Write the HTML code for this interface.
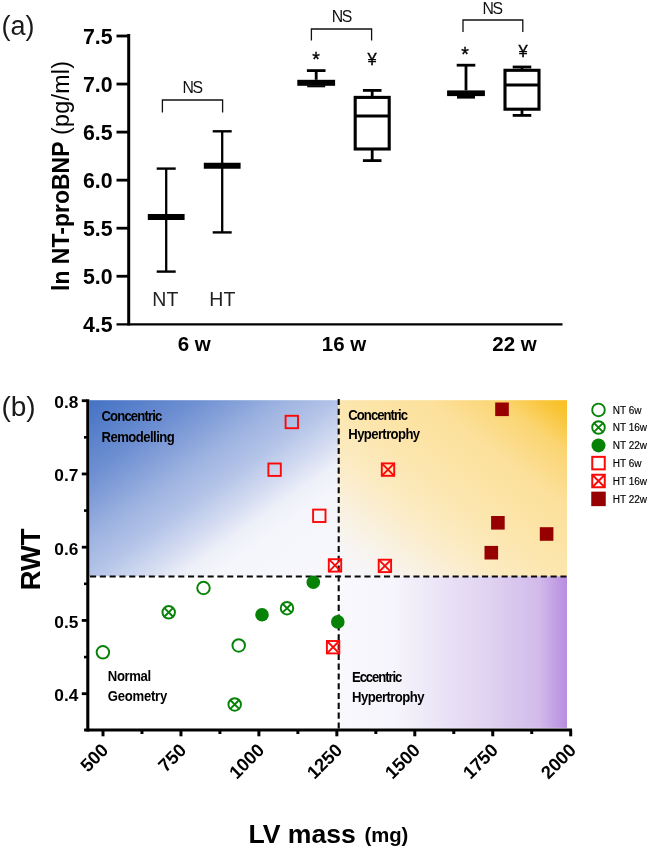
<!DOCTYPE html>
<html lang="en"><head><meta charset="utf-8"><title>Figure</title>
<style>
html,body{margin:0;padding:0;background:#fff;}
svg{display:block;font-family:"Liberation Sans",Arial,sans-serif;}
.b{font-weight:bold}
</style></head><body>
<svg width="649" height="850" viewBox="0 0 649 850">
<defs>
<linearGradient id="gb" x1="0" y1="0" x2="1" y2="1">
<stop offset="0" stop-color="#4472c4"/><stop offset="0.22" stop-color="#6f90d2"/><stop offset="0.4" stop-color="#9fb4e1"/><stop offset="0.5" stop-color="#b4c4e8"/><stop offset="0.6" stop-color="#d3dbf1"/><stop offset="0.68" stop-color="#eef0f9"/><stop offset="0.75" stop-color="#f5f6fb"/><stop offset="1" stop-color="#f7f7fc"/></linearGradient>
<linearGradient id="gy" x1="1" y1="0" x2="0" y2="1">
<stop offset="0" stop-color="#f9bf1f"/><stop offset="0.06" stop-color="#f9c63c"/><stop offset="0.15" stop-color="#fbd572"/><stop offset="0.3" stop-color="#fce09a"/><stop offset="0.5" stop-color="#fce6ad"/><stop offset="0.65" stop-color="#fcebc2"/><stop offset="0.8" stop-color="#f9f1e0"/><stop offset="0.9" stop-color="#f7f5f4"/><stop offset="1" stop-color="#f6f6fb"/></linearGradient>
<linearGradient id="gp" gradientUnits="userSpaceOnUse" x1="338" y1="0" x2="567" y2="0">
<stop offset="0" stop-color="#f8f8fd"/><stop offset="0.24" stop-color="#f6f5fc"/><stop offset="0.42" stop-color="#ece6f7"/><stop offset="0.66" stop-color="#e0d2f1"/><stop offset="0.875" stop-color="#d2bbea"/><stop offset="1" stop-color="#b88de0"/></linearGradient>
</defs>
<rect width="649" height="850" fill="#fff"/>

<text x="1.6" y="35.2" font-size="27" fill="#1a1a1a">(a)</text>
<g stroke="#000" fill="none">
<line x1="128.7" y1="34" x2="128.7" y2="325.5" stroke-width="3"/>
<line x1="116.5" y1="324.3" x2="562.5" y2="324.3" stroke-width="2.3"/>
<line x1="116.5" y1="276.25" x2="128" y2="276.25" stroke-width="2.8"/>
<line x1="116.5" y1="228.2" x2="128" y2="228.2" stroke-width="2.8"/>
<line x1="116.5" y1="180.15" x2="128" y2="180.15" stroke-width="2.8"/>
<line x1="116.5" y1="132.1" x2="128" y2="132.1" stroke-width="2.8"/>
<line x1="116.5" y1="84.05" x2="128" y2="84.05" stroke-width="2.8"/>
<line x1="116.5" y1="36" x2="128" y2="36" stroke-width="2.8"/>
</g>
<g class="b" font-size="21.3" text-anchor="end" fill="#000">
<text x="112.5" y="332.1">4.5</text>
<text x="112.5" y="284.05">5.0</text>
<text x="112.5" y="236">5.5</text>
<text x="112.5" y="187.95">6.0</text>
<text x="112.5" y="139.9">6.5</text>
<text x="112.5" y="91.85">7.0</text>
<text x="112.5" y="43.8">7.5</text>
</g>
<text transform="translate(69,291) rotate(-90)" font-size="23" fill="#000" class="b">ln NT-proBNP</text>
<text transform="translate(69,135) rotate(-90)" font-size="23.3" fill="#000" letter-spacing="0.25">(pg/ml)</text>
<g class="b" font-size="20.5" fill="#000" text-anchor="middle">
<text x="194.3" y="351">6 w</text><text x="344" y="351">16 w</text><text x="514.5" y="351">22 w</text></g>
<g font-size="19.5" fill="#222" text-anchor="middle"><text x="165.3" y="305.8">NT</text><text x="222.3" y="305.8">HT</text></g>
<path d="M162.4 112.4 V100 H222.6 V112.4" fill="none" stroke="#111" stroke-width="1.3"/>
<text x="192" y="93.4" font-size="15.8" text-anchor="middle" fill="#111" letter-spacing="-1.5">NS</text>
<path d="M311.4 40.6 V29 H371.6 V40.6" fill="none" stroke="#111" stroke-width="1.3"/>
<text x="341.2" y="21.6" font-size="15.8" text-anchor="middle" fill="#111" letter-spacing="-1.5">NS</text>
<path d="M463 32 V20 H522.8 V32" fill="none" stroke="#111" stroke-width="1.3"/>
<text x="492" y="13.6" font-size="15.8" text-anchor="middle" fill="#111" letter-spacing="-1.5">NS</text>
<g font-size="16.5" fill="#000" stroke="#000" stroke-width="0.35" text-anchor="middle">
<text x="316" y="66.1" font-size="19.5">*</text><text x="372" y="64.8">¥</text>
<text x="465" y="60.7" font-size="19.5">*</text><text x="523" y="57.2">¥</text></g>
<g stroke="#000" fill="none">
<line x1="166.2" y1="168.6" x2="166.2" y2="271.6" stroke-width="2.3"/>
<line x1="156.7" y1="168.6" x2="175.7" y2="168.6" stroke-width="2.4"/>
<line x1="156.7" y1="271.6" x2="175.7" y2="271.6" stroke-width="2.4"/>
<line x1="147.8" y1="217.1" x2="184.6" y2="217.1" stroke-width="6"/>
</g>
<g stroke="#000" fill="none">
<line x1="222.2" y1="131.3" x2="222.2" y2="232.4" stroke-width="2.3"/>
<line x1="212.7" y1="131.3" x2="231.7" y2="131.3" stroke-width="2.4"/>
<line x1="212.7" y1="232.4" x2="231.7" y2="232.4" stroke-width="2.4"/>
<line x1="203.8" y1="165.8" x2="240.6" y2="165.8" stroke-width="6"/>
</g>
<g stroke="#000" fill="none">
<line x1="316.2" y1="70.6" x2="316.2" y2="79.8" stroke-width="2.8"/>
<line x1="306.9" y1="70.6" x2="325.5" y2="70.6" stroke-width="2.8"/>
</g>
<rect x="297.3" y="79.8" width="37.8" height="6" fill="#000"/>
<rect x="307.2" y="85.3" width="18" height="2" fill="#000"/>
<g stroke="#000" fill="none">
<line x1="466" y1="65.2" x2="466" y2="90.4" stroke-width="2.8"/>
<line x1="456.7" y1="65.2" x2="475.3" y2="65.2" stroke-width="2.8"/>
</g>
<rect x="447.1" y="90.4" width="37.8" height="5.7" fill="#000"/>
<rect x="457" y="95.6" width="18" height="3" fill="#000"/>
<g stroke="#000" fill="none">
<line x1="372.2" y1="90.4" x2="372.2" y2="97.4" stroke-width="2.8"/>
<line x1="372.2" y1="149" x2="372.2" y2="160.6" stroke-width="2.8"/>
<line x1="362.9" y1="90.4" x2="381.5" y2="90.4" stroke-width="2.8"/>
<line x1="362.9" y1="160.6" x2="381.5" y2="160.6" stroke-width="2.8"/>
<rect x="355.2" y="97.4" width="34" height="51.6" stroke-width="3.1" fill="#fff"/>
<line x1="355.2" y1="116" x2="389.2" y2="116" stroke-width="3"/>
</g>
<g stroke="#000" fill="none">
<line x1="522" y1="67" x2="522" y2="70.3" stroke-width="2.8"/>
<line x1="522" y1="109.2" x2="522" y2="115.4" stroke-width="2.8"/>
<line x1="512.7" y1="67" x2="531.3" y2="67" stroke-width="2.8"/>
<line x1="512.7" y1="115.4" x2="531.3" y2="115.4" stroke-width="2.8"/>
<rect x="505" y="70.3" width="34" height="38.9" stroke-width="3.1" fill="#fff"/>
<line x1="505" y1="85" x2="539" y2="85" stroke-width="3"/>
</g>
<text x="1.4" y="415.8" font-size="28" fill="#1a1a1a">(b)</text>
<rect x="89.4" y="400.2" width="248.9" height="176.1" fill="url(#gb)"/>
<rect x="338.3" y="400.2" width="228.7" height="176.1" fill="url(#gy)"/>
<rect x="338.3" y="576.3" width="228.7" height="151.6" fill="url(#gp)"/>
<g stroke="#000" fill="none">
<line x1="87.8" y1="399.2" x2="87.8" y2="731.5" stroke-width="3.1"/>
<line x1="84.1" y1="730" x2="572" y2="730" stroke-width="3.1"/>
<line x1="81.8" y1="400.7" x2="87" y2="400.7" stroke-width="2.8"/>
<line x1="81.8" y1="473.95" x2="87" y2="473.95" stroke-width="2.8"/>
<line x1="81.8" y1="547.2" x2="87" y2="547.2" stroke-width="2.8"/>
<line x1="81.8" y1="620.45" x2="87" y2="620.45" stroke-width="2.8"/>
<line x1="81.8" y1="693.7" x2="87" y2="693.7" stroke-width="2.8"/>
<line x1="84" y1="437.33" x2="87" y2="437.33" stroke-width="2.6"/>
<line x1="84" y1="510.58" x2="87" y2="510.58" stroke-width="2.6"/>
<line x1="84" y1="583.83" x2="87" y2="583.83" stroke-width="2.6"/>
<line x1="84" y1="657.08" x2="87" y2="657.08" stroke-width="2.6"/>
<line x1="103" y1="730" x2="103" y2="736.3" stroke-width="3"/>
<line x1="180.95" y1="730" x2="180.95" y2="736.3" stroke-width="3"/>
<line x1="258.9" y1="730" x2="258.9" y2="736.3" stroke-width="3"/>
<line x1="336.85" y1="730" x2="336.85" y2="736.3" stroke-width="3"/>
<line x1="414.8" y1="730" x2="414.8" y2="736.3" stroke-width="3"/>
<line x1="492.75" y1="730" x2="492.75" y2="736.3" stroke-width="3"/>
<line x1="570.7" y1="730" x2="570.7" y2="736.3" stroke-width="3"/>
<line x1="141.97" y1="730" x2="141.97" y2="734" stroke-width="3"/>
<line x1="219.93" y1="730" x2="219.93" y2="734" stroke-width="3"/>
<line x1="297.88" y1="730" x2="297.88" y2="734" stroke-width="3"/>
<line x1="375.83" y1="730" x2="375.83" y2="734" stroke-width="3"/>
<line x1="453.78" y1="730" x2="453.78" y2="734" stroke-width="3"/>
<line x1="531.73" y1="730" x2="531.73" y2="734" stroke-width="3"/>
<line x1="90" y1="576.5" x2="567" y2="576.5" stroke-width="2.1" stroke-dasharray="6.1 3.7" stroke="#0a0a0a"/>
<line x1="338.7" y1="399" x2="338.7" y2="729" stroke-width="2.1" stroke-dasharray="6.1 3.7" stroke="#0a0a0a"/>
</g>
<g class="b" font-size="17.3" text-anchor="end" fill="#000">
<text x="78.4" y="408">0.8</text>
<text x="78.4" y="481.25">0.7</text>
<text x="78.4" y="554.5">0.6</text>
<text x="78.4" y="627.75">0.5</text>
<text x="78.4" y="701">0.4</text>
</g>
<g class="b" font-size="18.3" text-anchor="end" fill="#000">
<text transform="translate(109.5,751.3) rotate(-45)">500</text>
<text transform="translate(187.45,751.3) rotate(-45)">750</text>
<text transform="translate(265.4,751.3) rotate(-45)">1000</text>
<text transform="translate(343.35,751.3) rotate(-45)">1250</text>
<text transform="translate(421.3,751.3) rotate(-45)">1500</text>
<text transform="translate(499.25,751.3) rotate(-45)">1750</text>
<text transform="translate(577.2,751.3) rotate(-45)">2000</text>
</g>
<text transform="translate(39.6,590.3) rotate(-90)" class="b" font-size="27.4" fill="#000">RWT</text>
<text x="248.4" y="842.5" class="b" font-size="26.6" fill="#000">LV mass</text>
<text x="364.4" y="842.3" class="b" font-size="20.3" fill="#000">(mg)</text>
<g class="b" font-size="14.6" fill="#000">
<text transform="translate(101.5,420.8) scale(0.9,1)" textLength="67.56" lengthAdjust="spacing">Concentric</text>
<text transform="translate(101.5,441.6) scale(0.9,1)" textLength="81.44" lengthAdjust="spacing">Remodelling</text>
</g>
<g class="b" font-size="14.6" fill="#000">
<text transform="translate(348.3,419.7) scale(0.9,1)" textLength="66.44" lengthAdjust="spacing">Concentric</text>
<text transform="translate(348.3,439.2) scale(0.9,1)" textLength="79.78" lengthAdjust="spacing">Hypertrophy</text>
</g>
<g class="b" font-size="14.6" fill="#000">
<text transform="translate(107.8,680.8) scale(0.9,1)" textLength="48.22" lengthAdjust="spacing">Normal</text>
<text transform="translate(107.8,701.3) scale(0.9,1)" textLength="66" lengthAdjust="spacing">Geometry</text>
</g>
<g class="b" font-size="14.6" fill="#000">
<text transform="translate(352,681.6) scale(0.9,1)" textLength="55.89" lengthAdjust="spacing">Eccentric</text>
<text transform="translate(352,701.9) scale(0.9,1)" textLength="80.67" lengthAdjust="spacing">Hypertrophy</text>
</g>
<circle cx="203.5" cy="588" r="6.25" fill="none" stroke="#068306" stroke-width="1.95"/>
<circle cx="102.9" cy="652.3" r="6.25" fill="none" stroke="#068306" stroke-width="1.95"/>
<circle cx="238.7" cy="645.4" r="6.25" fill="none" stroke="#068306" stroke-width="1.95"/>
<circle cx="168.7" cy="612.3" r="6.25" fill="none" stroke="#068306" stroke-width="1.95"/>
<path d="M164.28 607.88 L173.12 616.72 M164.28 616.72 L173.12 607.88" stroke="#068306" stroke-width="1.95" fill="none"/>
<circle cx="287" cy="608.2" r="6.25" fill="none" stroke="#068306" stroke-width="1.95"/>
<path d="M282.58 603.78 L291.42 612.62 M282.58 612.62 L291.42 603.78" stroke="#068306" stroke-width="1.95" fill="none"/>
<circle cx="234.7" cy="704.4" r="6.25" fill="none" stroke="#068306" stroke-width="1.95"/>
<path d="M230.28 699.98 L239.12 708.82 M230.28 708.82 L239.12 699.98" stroke="#068306" stroke-width="1.95" fill="none"/>
<circle cx="313.3" cy="582.2" r="6.8" fill="#068306"/>
<circle cx="262" cy="614.8" r="6.8" fill="#068306"/>
<circle cx="337.8" cy="621.9" r="6.8" fill="#068306"/>
<rect x="285.6" y="415.8" width="12.4" height="12.4" fill="none" stroke="#fb0808" stroke-width="1.9"/>
<rect x="268.4" y="463.5" width="12.4" height="12.4" fill="none" stroke="#fb0808" stroke-width="1.9"/>
<rect x="313.1" y="509.6" width="12.4" height="12.4" fill="none" stroke="#fb0808" stroke-width="1.9"/>
<rect x="328.8" y="559.2" width="12.4" height="12.4" fill="none" stroke="#fb0808" stroke-width="1.9"/>
<path d="M328.8 559.2 L341.2 571.6 M328.8 571.6 L341.2 559.2" stroke="#fb0808" stroke-width="1.9" fill="none"/>
<rect x="381.8" y="463.4" width="12.4" height="12.4" fill="none" stroke="#fb0808" stroke-width="1.9"/>
<path d="M381.8 463.4 L394.2 475.8 M381.8 475.8 L394.2 463.4" stroke="#fb0808" stroke-width="1.9" fill="none"/>
<rect x="378.7" y="559.7" width="12.4" height="12.4" fill="none" stroke="#fb0808" stroke-width="1.9"/>
<path d="M378.7 559.7 L391.1 572.1 M378.7 572.1 L391.1 559.7" stroke="#fb0808" stroke-width="1.9" fill="none"/>
<rect x="326.9" y="641" width="12.4" height="12.4" fill="none" stroke="#fb0808" stroke-width="1.9"/>
<path d="M326.9 641 L339.3 653.4 M326.9 653.4 L339.3 641" stroke="#fb0808" stroke-width="1.9" fill="none"/>
<rect x="495.2" y="402.5" width="13.6" height="13.6" fill="#960000"/>
<rect x="491.1" y="516" width="13.6" height="13.6" fill="#960000"/>
<rect x="539.8" y="527.2" width="13.6" height="13.6" fill="#960000"/>
<rect x="484.5" y="545.9" width="13.6" height="13.6" fill="#960000"/>
<circle cx="598.5" cy="409.9" r="6.3" fill="none" stroke="#068306" stroke-width="1.9"/>
<circle cx="598.5" cy="427.5" r="6.3" fill="none" stroke="#068306" stroke-width="1.9"/>
<path d="M594.05 423.05 L602.95 431.95 M594.05 431.95 L602.95 423.05" stroke="#068306" stroke-width="1.9" fill="none"/>
<circle cx="598.5" cy="445.4" r="7" fill="#068306"/>
<rect x="592.25" y="456.85" width="12.5" height="12.5" fill="none" stroke="#fb0808" stroke-width="2"/>
<rect x="592.25" y="474.75" width="12.5" height="12.5" fill="none" stroke="#fb0808" stroke-width="2"/>
<path d="M592.25 474.75 L604.75 487.25 M592.25 487.25 L604.75 474.75" stroke="#fb0808" stroke-width="2" fill="none"/>
<rect x="591.25" y="491.65" width="14.5" height="14.5" fill="#960000"/>
<g font-size="10" fill="#000" stroke="#000" stroke-width="0.15">
<text x="612.8" y="413.5">NT 6w</text>
<text x="612.8" y="431.3">NT 16w</text>
<text x="612.8" y="449.1">NT 22w</text>
<text x="612.8" y="466.9">HT 6w</text>
<text x="612.8" y="484.7">HT 16w</text>
<text x="612.8" y="502.5">HT 22w</text>
</g>
</svg></body></html>
